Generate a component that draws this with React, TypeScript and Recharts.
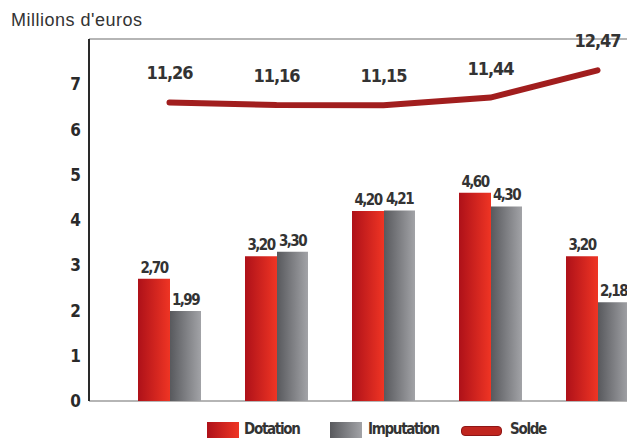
import {
  Bar,
  CartesianGrid,
  ComposedChart,
  LabelList,
  Line,
  XAxis,
  YAxis,
} from 'recharts';

const periods = ['P1', 'P2', 'P3', 'P4', 'P5'];
const dotation = [2.7, 3.2, 4.2, 4.6, 3.2];
const imputation = [1.99, 3.3, 4.21, 4.3, 2.18];
const solde = [11.26, 11.16, 11.15, 11.44, 12.47];
const yTicks = [0, 1, 2, 3, 4, 5, 6, 7];

const data = periods.map((p, i) => ({
  period: p,
  dotation: dotation[i],
  imputation: imputation[i],
  solde: solde[i],
}));

const condensed = '"DejaVu Sans Condensed", "DejaVu Sans", sans-serif';
const fmt = (v: number) => v.toFixed(2).replace('.', ',');

const labelStyle = {
  fill: '#333',
  fontFamily: condensed,
  fontWeight: 700,
  fontSize: 15,
  letterSpacing: -1.6,
};

export default function App() {
  return (
    <div
      style={{
        position: 'absolute',
        left: 0,
        top: 0,
        width: 627,
        height: 438,
        overflow: 'hidden',
        background: '#fff',
      }}
    >
      <div
        style={{
          position: 'absolute',
          left: 11,
          top: 10,
          fontFamily: '"Liberation Sans", Arial, sans-serif',
          fontSize: 18,
          letterSpacing: 0.5,
          color: '#333',
        }}
      >
        Millions d'euros
      </div>
      <ComposedChart
        width={651}
        height={438}
        data={data}
        barGap={0}
        barCategoryGap={0}
        margin={{ top: 39, right: 0, left: 0, bottom: 37 }}
      >
        <defs>
          <linearGradient id="redGrad" x1="0" y1="0" x2="1" y2="0">
            <stop offset="0%" stopColor="#ae1119" />
            <stop offset="100%" stopColor="#ef3524" />
          </linearGradient>
          <linearGradient id="grayGrad" x1="0" y1="0" x2="1" y2="0">
            <stop offset="0%" stopColor="#58595d" />
            <stop offset="100%" stopColor="#a2a3a7" />
          </linearGradient>
        </defs>
        <CartesianGrid vertical={false} stroke="#b5b5b5" strokeWidth={2} />
        <XAxis
          dataKey="period"
          tick={false}
          tickLine={false}
          height={0}
          padding={{ left: 27, right: 0 }}
          axisLine={{ stroke: '#2a2a2a', strokeWidth: 2 }}
        />
        <YAxis
          yAxisId="left"
          width={89}
          domain={[0, 8]}
          ticks={yTicks}
          interval={0}
          tickLine={false}
          axisLine={{ stroke: '#2a2a2a', strokeWidth: 2 }}
          tick={{ ...labelStyle, fontSize: 17, letterSpacing: 0, fill: '#2a2a2a' }}
        />
        <YAxis yAxisId="right" orientation="right" hide domain={[0, 13.65]} />
        <Bar
          yAxisId="left"
          dataKey="dotation"
          barSize={32}
          fill="url(#redGrad)"
          isAnimationActive={false}
        >
          <LabelList dataKey="dotation" position="top" offset={6} formatter={fmt} style={labelStyle} />
        </Bar>
        <Bar
          yAxisId="left"
          dataKey="imputation"
          barSize={31}
          fill="url(#grayGrad)"
          isAnimationActive={false}
        >
          <LabelList dataKey="imputation" position="top" offset={6} formatter={fmt} style={labelStyle} />
        </Bar>
        <Line
          yAxisId="right"
          type="linear"
          dataKey="solde"
          stroke="#a11e1e"
          strokeWidth={6}
          strokeLinecap="round"
          dot={false}
          activeDot={false}
          isAnimationActive={false}
        >
          <LabelList
            dataKey="solde"
            position="top"
            offset={23}
            formatter={fmt}
            style={{ ...labelStyle, fontSize: 18, letterSpacing: -1 }}
          />
        </Line>
      </ComposedChart>
      <div
        style={{
          position: 'absolute',
          left: 0,
          top: 420,
          width: 627,
          height: 18,
          fontFamily: condensed,
          fontWeight: 700,
          fontSize: 15,
          letterSpacing: -1.3,
          color: '#333',
          lineHeight: '18px',
        }}
      >
        <div style={{ position: 'absolute', left: 207, top: 2, width: 32, height: 16, background: 'linear-gradient(to right, #ae1119, #ef3524)' }} />
        <span style={{ position: 'absolute', left: 244, top: 0 }}>Dotation</span>
        <div style={{ position: 'absolute', left: 330, top: 2, width: 32, height: 16, background: 'linear-gradient(to right, #58595d, #a2a3a7)' }} />
        <span style={{ position: 'absolute', left: 368, top: 0 }}>Imputation</span>
        <div style={{ position: 'absolute', left: 461, top: 6, width: 39, height: 8, borderRadius: 4, background: '#c0261f', border: '1px solid #8e1616' }} />
        <span style={{ position: 'absolute', left: 510, top: 0 }}>Solde</span>
      </div>
    </div>
  );
}
